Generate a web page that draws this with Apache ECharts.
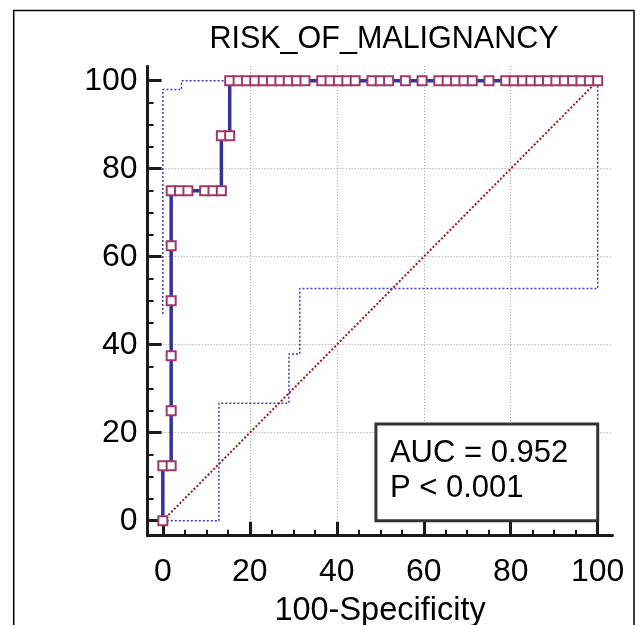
<!DOCTYPE html>
<html lang="en">

<head>
    <meta charset="UTF-8">
    <title>RISK_OF_MALIGNANCY ROC</title>
    <script src="https://cdn.jsdelivr.net/npm/echarts@6/dist/echarts.min.js"></script>
    <style>
        html, body {
            margin: 0;
            padding: 0;
            background: #fff;
        }
        #roc {
            width: 642px;
            height: 625px;
        }
    </style>
</head>

<body>
    <div id="roc"></div>

    <script>
        // ROC points (100-Specificity, Sensitivity)
        var rocFpr = [0, 0, 1.92, 1.92, 1.92, 1.92, 1.92, 1.92, 3.85, 5.77, 9.62, 11.54, 13.46, 13.46, 15.38,
            15.38, 17.31, 19.23, 21.15, 23.08, 25.0, 26.92, 28.85, 30.77, 32.69,
            36.54, 38.46, 40.38, 42.31, 44.23,
            48.08, 50.0, 51.92, 55.77, 59.62,
            63.46, 65.38, 67.31, 69.23, 71.15, 75.0,
            78.85, 80.77, 82.69, 84.62, 86.54, 88.46, 90.38, 92.31, 94.23, 96.15, 98.08, 100];
        var rocTpr = [0, 12.5, 12.5, 25, 37.5, 50, 62.5, 75, 75, 75, 75, 75, 75, 87.5, 87.5,
            100, 100, 100, 100, 100, 100, 100, 100, 100, 100,
            100, 100, 100, 100, 100,
            100, 100, 100, 100, 100,
            100, 100, 100, 100, 100, 100,
            100, 100, 100, 100, 100, 100, 100, 100, 100, 100, 100, 100];

        // confidence bounds
        var upperFpr = [0, 0, 4.3, 4.3, 100];
        var upperTpr = [47, 98, 98, 100, 100];
        var lowerFpr = [0, 12.9, 12.9, 29.0, 29.0, 31.5, 31.5, 100, 100];
        var lowerTpr = [0, 0, 26.7, 26.7, 37.9, 37.9, 52.8, 52.8, 100];

        // reference diagonal
        var diagFpr = [0, 100];
        var diagTpr = [0, 100];

        var tickValues = [0, 20, 40, 60, 80, 100];
        var aucText = 'AUC = 0.952';
        var pText = 'P < 0.001';

        function pairs(xs, ys) {
            return xs.map(function (x, i) { return [x, ys[i]]; });
        }

        var font = '"Liberation Sans", Arial, sans-serif';
        var gridLine = { show: true, showMinLine: false, showMaxLine: false, lineStyle: { color: '#9a9a9a', type: [1, 2], width: 1 } };

        function axis(extra) {
            var a = {
                type: 'value',
                axisLine: { show: true, onZero: false, lineStyle: { color: '#1a1a1a', width: 3 } },
                axisTick: { show: true, inside: true, length: 14, customValues: tickValues, lineStyle: { color: '#1a1a1a', width: 3 } },
                minorTick: { show: true, splitNumber: 4, length: 6, lineStyle: { color: '#1a1a1a', width: 2 } },
                axisLabel: { fontSize: 32, color: '#000', fontFamily: font, customValues: tickValues },
                splitLine: gridLine
            };
            for (var k in extra) a[k] = extra[k];
            return a;
        }

        var chart = echarts.init(document.getElementById('roc'), null, { renderer: 'canvas' });

        var option = {
            animation: false,
            backgroundColor: '#fff',
            title: {
                text: 'RISK_OF_MALIGNANCY',
                left: 379,
                top: 19,
                textAlign: 'center',
                textStyle: { fontSize: 30.5, fontWeight: 'normal', color: '#000', fontFamily: font }
            },
            grid: {
                left: 147.6,
                right: 29.5,
                top: 66.2,
                bottom: 89.3,
                containLabel: false,
                outerBoundsMode: 'none'
            },
            xAxis: axis({
                min: -3.5,
                max: 103.4,
                name: '100-Specificity',
                nameLocation: 'middle',
                nameGap: 59,
                nameTextStyle: { fontSize: 32.5, color: '#000', fontFamily: font }
            }),
            yAxis: axis({
                min: -3.4,
                max: 103.3
            }),
            series: [
                {
                    type: 'line',
                    data: pairs(upperFpr, upperTpr),
                    symbol: 'none',
                    lineStyle: { color: '#3c3cb4', width: 1.5, type: [2, 2] },
                    z: 2
                },
                {
                    type: 'line',
                    data: pairs(lowerFpr, lowerTpr),
                    symbol: 'none',
                    lineStyle: { color: '#3c3cb4', width: 1.5, type: [2, 2] },
                    z: 2
                },
                {
                    type: 'line',
                    data: pairs(diagFpr, diagTpr),
                    symbol: 'none',
                    lineStyle: { color: '#a31515', width: 2, type: [2, 2] },
                    z: 3
                },
                {
                    type: 'line',
                    data: pairs(rocFpr, rocTpr),
                    symbol: 'rect',
                    symbolSize: 9,
                    showAllSymbol: true,
                    lineStyle: { color: '#33339a', width: 3.5 },
                    itemStyle: { color: '#fff', borderColor: '#9e3a6a', borderWidth: 2 },
                    z: 4
                }
            ]
        };
        // x labels sit a bit lower than y labels sit left
        option.xAxis.axisLabel = Object.assign({}, option.xAxis.axisLabel, { margin: 20 });
        option.yAxis.axisLabel = Object.assign({}, option.yAxis.axisLabel, { margin: 10 });

        chart.setOption(option);

        // stats box anchored in data coordinates
        var boxTL = chart.convertToPixel({ gridIndex: 0 }, [49, 22]);
        var boxBR = chart.convertToPixel({ gridIndex: 0 }, [100, 0]);

        chart.setOption({
            graphic: [
                {
                    type: 'rect',
                    z: 0,
                    silent: true,
                    shape: { x: 13.7, y: 10.4, width: 620.3, height: 700 },
                    style: { fill: 'none', stroke: '#000', lineWidth: 1.5 }
                },
                {
                    type: 'rect',
                    z: 10,
                    shape: { x: boxTL[0], y: boxTL[1], width: boxBR[0] - boxTL[0], height: boxBR[1] - boxTL[1] },
                    style: { fill: '#fff', stroke: '#333', lineWidth: 3 }
                },
                {
                    type: 'text',
                    z: 11,
                    left: boxTL[0] + 14,
                    top: boxTL[1] + 12,
                    style: {
                        text: aucText + '\n' + pText,
                        fontSize: 31,
                        lineHeight: 35,
                        fill: '#000',
                        fontFamily: font
                    }
                }
            ]
        });
    </script>
</body>

</html>
